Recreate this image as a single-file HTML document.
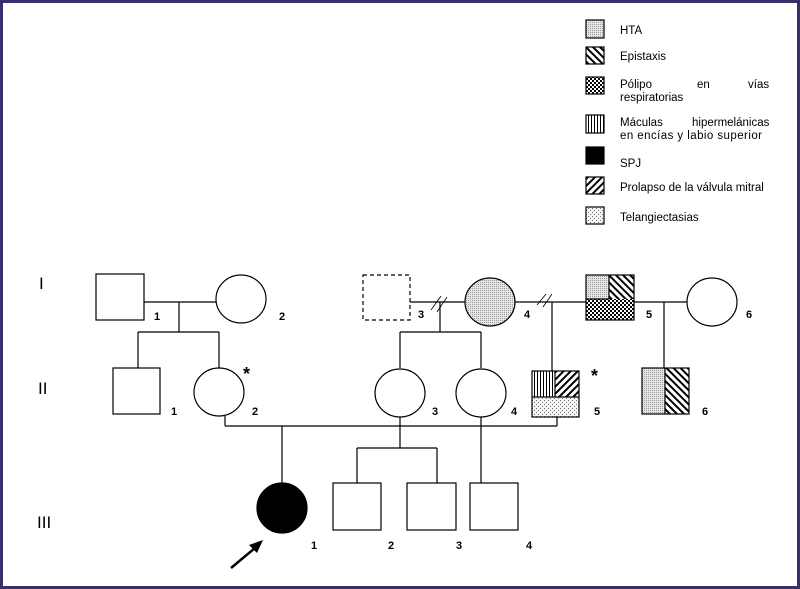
<!DOCTYPE html>
<html><head><meta charset="utf-8"><style>
html,body{margin:0;padding:0;background:#fff}
svg{display:block}
text{font-family:"Liberation Sans",Arial,sans-serif}
</style></head><body>
<svg width="800" height="589" viewBox="0 0 800 589" xmlns="http://www.w3.org/2000/svg">
<defs>
<pattern id="hta" width="2" height="2" patternUnits="userSpaceOnUse"><rect width="2" height="2" fill="#e6e6e6"/><rect width="1" height="1" fill="#9a9a9a"/></pattern>
<pattern id="tel" width="4" height="4" patternUnits="userSpaceOnUse"><rect width="4" height="4" fill="#f4f4f4"/><rect width="1" height="1" fill="#777"/><rect x="2" y="2" width="1" height="1" fill="#777"/></pattern>
<pattern id="epi" width="5" height="5" patternUnits="userSpaceOnUse" patternTransform="rotate(-45)"><rect width="5" height="5" fill="#fff"/><rect width="2" height="5" fill="#000"/></pattern>
<pattern id="pro" width="5" height="5" patternUnits="userSpaceOnUse" patternTransform="rotate(45)"><rect width="5" height="5" fill="#fff"/><rect width="2" height="5" fill="#000"/></pattern>
<pattern id="vert" width="3" height="3" patternUnits="userSpaceOnUse"><rect width="3" height="3" fill="#fff"/><rect width="1" height="3" fill="#000"/></pattern>
<pattern id="chk" width="4" height="4" patternUnits="userSpaceOnUse"><rect width="4" height="4" fill="#fff"/><rect width="2" height="2" fill="#000"/><rect x="2" y="2" width="2" height="2" fill="#000"/></pattern>
</defs>
<rect x="1.5" y="1.5" width="797" height="586" fill="#fff" stroke="#3b2d6b" stroke-width="3"/>
<g stroke="#000" stroke-width="1.2" fill="none">
<rect x="586" y="20" width="18" height="18" fill="url(#hta)"/>
<rect x="586" y="47" width="18" height="17" fill="url(#epi)"/>
<rect x="586" y="77" width="18" height="17" fill="url(#chk)"/>
<rect x="586" y="115" width="18" height="18" fill="url(#vert)"/>
<rect x="586" y="147" width="18" height="17" fill="#000"/>
<rect x="586" y="177" width="18" height="17" fill="url(#pro)"/>
<rect x="586" y="207" width="18" height="17" fill="url(#tel)"/>
<rect x="96" y="274" width="48" height="46" fill="#fff"/>
<ellipse cx="241" cy="299" rx="25" ry="24" fill="#fff"/>
<line x1="144" y1="302" x2="216" y2="302"/>
<line x1="179" y1="302" x2="179" y2="332"/>
<line x1="138" y1="332" x2="219" y2="332"/>
<line x1="138" y1="332" x2="138" y2="368"/>
<line x1="219" y1="332" x2="219" y2="368"/>
<rect x="363" y="275" width="47" height="45" stroke-dasharray="4,3"/>
<line x1="410" y1="302" x2="465" y2="302"/>
<ellipse cx="490" cy="302" rx="25" ry="24" fill="url(#hta)"/>
<line x1="515" y1="302" x2="586" y2="302"/>
<line x1="431" y1="310" x2="441" y2="296" stroke-width="0.8"/>
<line x1="437" y1="312" x2="447" y2="297" stroke-width="0.8"/>
<line x1="537" y1="305" x2="546" y2="294" stroke-width="0.8"/>
<line x1="543" y1="307" x2="552" y2="294" stroke-width="0.8"/>
<line x1="440" y1="302" x2="440" y2="332"/>
<line x1="400" y1="332" x2="481" y2="332"/>
<line x1="400" y1="332" x2="400" y2="368"/>
<line x1="481" y1="332" x2="481" y2="368"/>
<line x1="552" y1="302" x2="552" y2="371"/>
<rect x="586" y="275" width="23" height="24" fill="url(#hta)" stroke="none"/>
<rect x="609" y="275" width="25" height="24" fill="url(#epi)" stroke="none"/>
<rect x="586" y="299" width="48" height="21" fill="url(#chk)" stroke="none"/>
<rect x="586" y="275" width="48" height="45"/>
<polyline points="586,299 609,299 609,275"/>
<line x1="634" y1="302" x2="687" y2="302"/>
<ellipse cx="712" cy="302" rx="25" ry="24" fill="#fff"/>
<line x1="664" y1="302" x2="664" y2="368"/>
<rect x="113" y="368" width="47" height="46" fill="#fff"/>
<ellipse cx="219" cy="392" rx="25" ry="24" fill="#fff"/>
<ellipse cx="400" cy="393" rx="25" ry="24" fill="#fff"/>
<ellipse cx="481" cy="393" rx="25" ry="24" fill="#fff"/>
<rect x="532" y="371" width="23" height="26" fill="url(#vert)" stroke="none"/>
<rect x="555" y="371" width="24" height="26" fill="url(#pro)" stroke="none"/>
<rect x="532" y="397" width="47" height="20" fill="url(#tel)" stroke="none"/>
<rect x="532" y="371" width="47" height="46"/>
<polyline points="532,397 579,397"/><line x1="555" y1="371" x2="555" y2="397"/>
<rect x="642" y="368" width="23" height="46" fill="url(#hta)" stroke="none"/>
<rect x="665" y="368" width="24" height="46" fill="url(#epi)" stroke="none"/>
<rect x="642" y="368" width="47" height="46"/>
<line x1="665" y1="368" x2="665" y2="414"/>
<line x1="225" y1="416" x2="225" y2="426"/>
<line x1="225" y1="426" x2="557" y2="426"/>
<line x1="557" y1="417" x2="557" y2="426"/>
<line x1="282" y1="426" x2="282" y2="483"/>
<line x1="400" y1="417" x2="400" y2="448"/>
<line x1="357" y1="448" x2="437" y2="448"/>
<line x1="357" y1="448" x2="357" y2="483"/>
<line x1="437" y1="448" x2="437" y2="483"/>
<line x1="481" y1="417" x2="481" y2="483"/>
<ellipse cx="282" cy="508" rx="25" ry="25" fill="#000"/>
<rect x="333" y="483" width="48" height="47" fill="#fff"/>
<rect x="407" y="483" width="49" height="47" fill="#fff"/>
<rect x="470" y="483" width="48" height="47" fill="#fff"/>
<line x1="231" y1="568" x2="255" y2="548" stroke-width="2.5"/>
</g>
<polygon points="263,540 249,545 257,553" fill="#000"/>
<g font-size="11.5" fill="#000">
<text x="620" y="34">HTA</text>
<text x="620" y="60">Epistaxis</text>
<text x="620" y="88">Pólipo</text><text x="697" y="88">en</text><text x="748" y="88">vías</text>
<text x="620" y="101">respiratorias</text>
<text x="620" y="126">Máculas</text><text x="692" y="126">hipermelánicas</text>
<text x="620" y="139" textLength="142" lengthAdjust="spacing">en encías y labio superior</text>
<text x="620" y="167">SPJ</text>
<text x="620" y="191">Prolapso de la válvula mitral</text>
<text x="620" y="221">Telangiectasias</text>
</g>
<g font-size="11" font-weight="bold" fill="#000">
<text x="154" y="320">1</text><text x="279" y="320">2</text>
<text x="418" y="318">3</text><text x="524" y="318">4</text>
<text x="646" y="318">5</text><text x="746" y="318">6</text>
<text x="171" y="415">1</text><text x="252" y="415">2</text>
<text x="432" y="415">3</text><text x="511" y="415">4</text>
<text x="594" y="415">5</text><text x="702" y="415">6</text>
<text x="311" y="549">1</text><text x="388" y="549">2</text>
<text x="456" y="549">3</text><text x="526" y="549">4</text>
</g>
<g font-size="18" font-weight="bold" fill="#000">
<text x="243" y="380">*</text><text x="591" y="382">*</text>
</g>
<g font-size="17" fill="#000">
<text x="39" y="289">I</text>
<text x="38" y="394">II</text>
<text x="37" y="528">III</text>
</g>
</svg>
</body></html>
